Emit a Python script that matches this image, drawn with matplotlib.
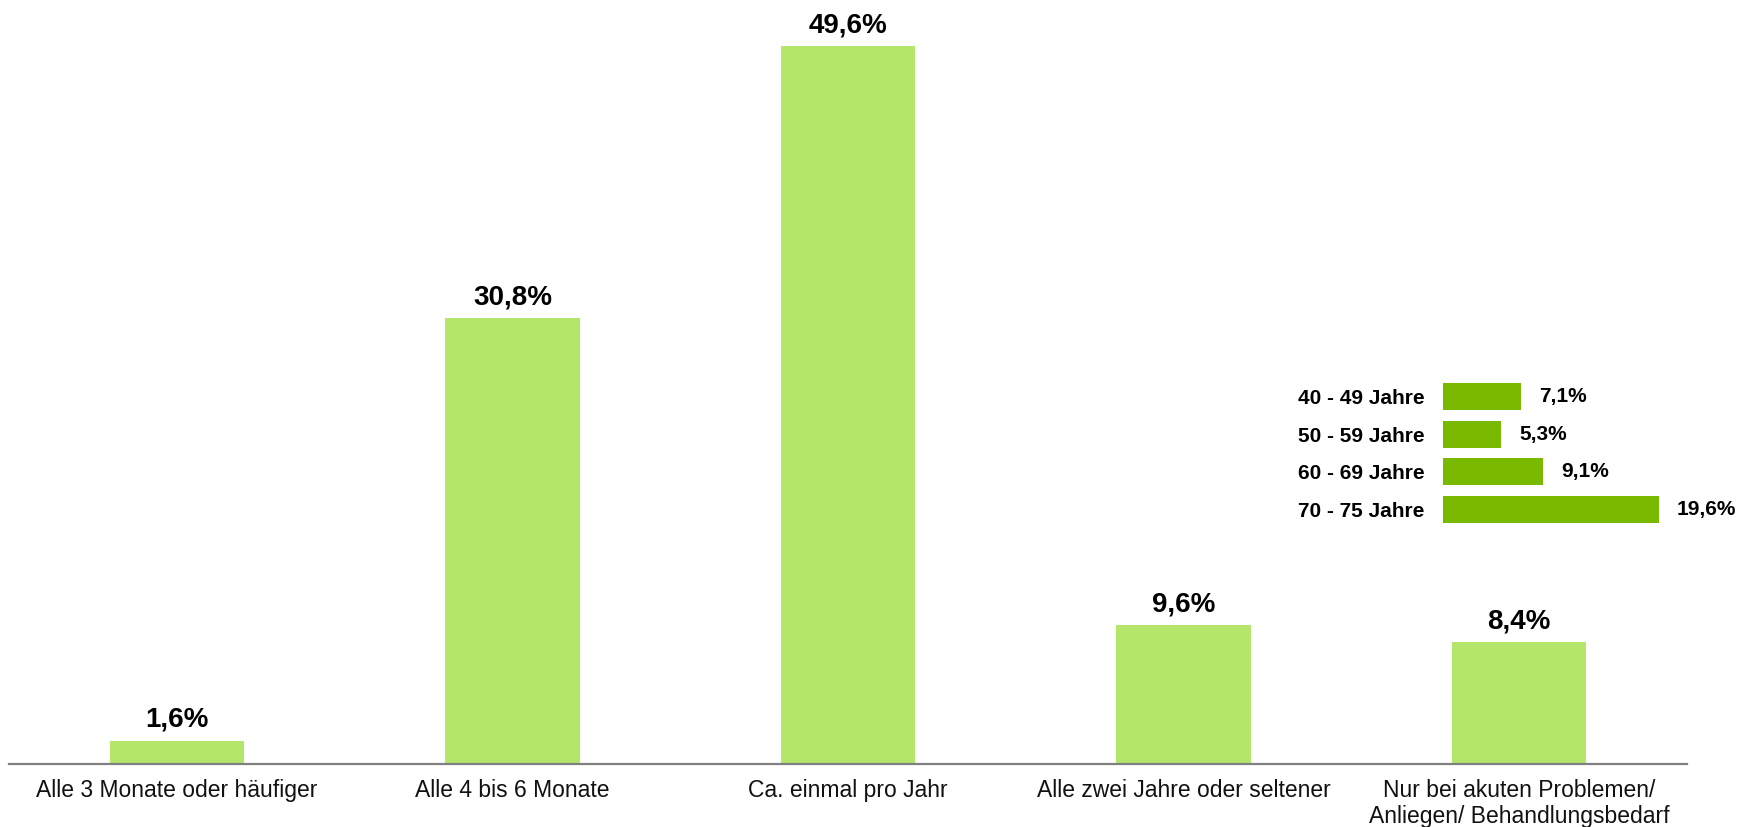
import matplotlib
matplotlib.use("Agg")
import matplotlib.pyplot as plt

plt.rcParams['font.family'] = ['Liberation Sans', 'DejaVu Sans']

# main chart data
categories = ["Alle 3 Monate oder häufiger", "Alle 4 bis 6 Monate", "Ca. einmal pro Jahr",
              "Alle zwei Jahre oder seltener",
              "Nur bei akuten Problemen/\nAnliegen/ Behandlungsbedarf"]
values = [1.6, 30.8, 49.6, 9.6, 8.4]

# inset: age groups
age_groups = ["40 - 49 Jahre", "50 - 59 Jahre", "60 - 69 Jahre", "70 - 75 Jahre"]
age_values = [7.1, 5.3, 9.1, 19.6]

def fmt(v):
    return ("%.1f%%" % v).replace(".", ",")

W, H = 1754, 827
fig = plt.figure(figsize=(W / 100, H / 100), dpi=100)

# main axes
ax = fig.add_axes([9 / W, (H - 764) / H, (1687 - 9) / W, 764 / H])
x = range(len(values))
ax.bar(x, values, width=0.4, color="#b3e66a")
ax.set_xlim(-0.5, len(values) - 0.5)
ax.set_ylim(0, 52.8)
for i, v in enumerate(values):
    ax.annotate(fmt(v), (i, v), xytext=(0, 10), textcoords="offset points",
                ha="center", va="baseline", fontsize=20, fontweight="bold")
ax.set_xticks(list(x))
ax.set_xticklabels(categories, fontsize=16.5, color="#111111", linespacing=1.15)
ax.tick_params(axis="x", length=0, pad=11)
ax.set_yticks([])
for s in ["top", "right", "left"]:
    ax.spines[s].set_visible(False)
ax.spines["bottom"].set_color("#808080")
ax.spines["bottom"].set_linewidth(1.6)

# inset axes
x0, x1 = 1443, 1443 + 20 * 11.02
y0, y1 = 378, 528
ax2 = fig.add_axes([x0 / W, (H - y1) / H, (x1 - x0) / W, (y1 - y0) / H])
yy = range(len(age_values))
ax2.barh(yy, age_values, height=0.72, color="#79b900")
ax2.set_xlim(0, 20)
ax2.set_ylim(len(age_values) - 0.5, -0.5)
for i, v in enumerate(age_values):
    ax2.annotate(fmt(v), (v, i), xytext=(13, 0), textcoords="offset points",
                 ha="left", va="center", fontsize=15, fontweight="bold")
ax2.set_yticks(list(yy))
ax2.set_yticklabels(age_groups, fontsize=15, fontweight="bold")
ax2.tick_params(axis="y", length=0, pad=13.5)
ax2.set_xticks([])
for s in ax2.spines.values():
    s.set_visible(False)
ax2.patch.set_alpha(0)

fig.savefig("out.png", dpi=100)
